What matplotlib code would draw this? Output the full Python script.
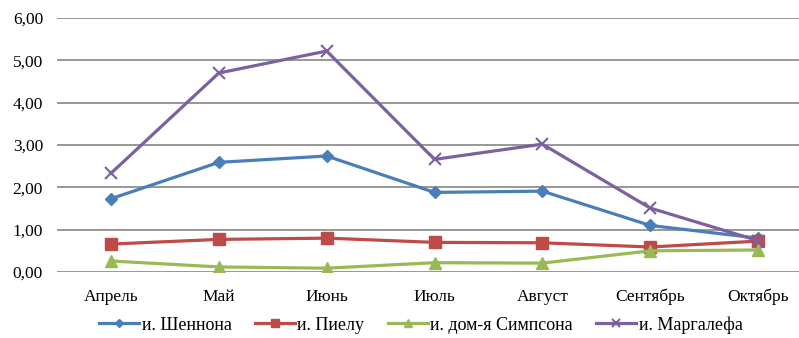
import matplotlib
matplotlib.use("Agg")
import matplotlib.pyplot as plt
from matplotlib.ticker import FuncFormatter
import numpy as np

months = ["Апрель", "Май", "Июнь", "Июль", "Август", "Сентябрь", "Октябрь"]
shannon = [1.73, 2.59, 2.74, 1.88, 1.91, 1.10, 0.80]
pielou = [0.66, 0.77, 0.80, 0.70, 0.69, 0.59, 0.73]
simpson = [0.26, 0.12, 0.09, 0.22, 0.21, 0.50, 0.52]
margalef = [2.33, 4.70, 5.22, 2.66, 3.02, 1.51, 0.74]

plt.rcParams['font.family'] = ['Liberation Serif', 'DejaVu Serif']

fig = plt.figure(figsize=(7.99, 3.38), dpi=100)
ax = fig.add_axes([57 / 799, 1 - 272 / 338, (812 - 57) / 799, 254 / 338])

x = np.arange(len(months))
ax.plot(x, shannon, '-D', color='#4A7EBB', lw=2.3, ms=6.5, label='и. Шеннона')
ax.plot(x, pielou, '-s', color='#BE4B48', lw=2.3, ms=8, label='и. Пиелу')
ax.plot(x, simpson, '-^', color='#98B954', lw=2.3, ms=8, label='и. дом-я Симпсона')
ax.plot(x, margalef, '-x', color='#7D60A0', lw=2.3, ms=9, mew=1.5, label='и. Маргалефа')

ax.set_xlim(-0.5, len(months) - 0.5)
ax.set_ylim(0, 6)
ax.set_yticks(np.arange(0, 7, 1))
ax.yaxis.set_major_formatter(FuncFormatter(lambda v, p: '{:.2f}'.format(v).replace('.', ',')))
ax.set_xticks(x)
ax.set_xticklabels(months)
ax.tick_params(length=0, labelsize=12.5, colors='black')
ax.tick_params(axis='y', pad=10)
ax.tick_params(axis='x', pad=12)
ax.grid(axis='y', color='#868686', lw=1.2)
ax.set_axisbelow(True)
for s in ax.spines.values():
    s.set_visible(False)

fig.legend(loc='center', bbox_to_anchor=(421 / 799, 1 - 325 / 338), ncol=4, frameon=False,
           fontsize=13, handlelength=2.2, columnspacing=1.3, handletextpad=0.15,
           markerscale=0.7)

fig.savefig('out.png', dpi=100)
